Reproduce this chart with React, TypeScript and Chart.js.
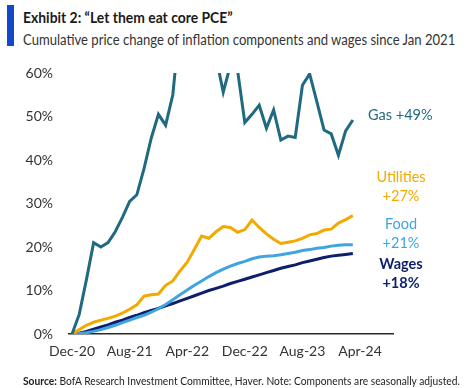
import React, { useEffect, useLayoutEffect, useRef } from "react";
import { Chart, registerables } from "chart.js";

Chart.register(...registerables);

// Month index 0 = Dec-20
const tickMonths = [0, 8, 16, 24, 32, 40];
const tickLabels = ["Dec-20", "Aug-21", "Apr-22", "Dec-22", "Aug-23", "Apr-24"];

const gas = [
  0, 4.5, 12.5, 21, 20, 21, 23.5, 26.8, 30.5, 32, 38, 45, 50.5, 48, 55,
  72, 80, 90, 100, 78, 63.7, 55.6, 61.8, 60.5, 48.6, 50.5, 52.6, 47.3, 51.5,
  44.6, 45.5, 45.2, 57.2, 59.8, 53.4, 46.9, 46, 41.1, 46.7, 49.2,
];
const utilities = [
  0, 1, 2, 2.7, 3.2, 3.6, 4.1, 4.8, 5.7, 6.7, 8.7, 9, 9.2, 11.2, 12.2, 14.5,
  16.5, 19.5, 22.5, 22, 23.5, 24.7, 24.5, 23.4, 24, 26.2, 24.5, 23, 21.8, 20.8,
  21.1, 21.4, 22, 22.8, 23.1, 23.9, 24.1, 25.5, 26.3, 27.2,
];
const food = [
  0, 0.1, 0.3, 0.6, 1.0, 1.5, 2.0, 2.6, 3.2, 3.8, 4.3, 5.0, 5.8, 6.8, 7.9, 9.0,
  10.1, 11.2, 12.2, 13.2, 14.1, 14.9, 15.6, 16.2, 16.7, 17.3, 17.7, 17.9, 18.0,
  18.2, 18.5, 18.8, 19.2, 19.4, 19.7, 19.9, 20.2, 20.4, 20.5, 20.5,
];
const wages = [
  0, 0.2, 0.6, 1.1, 1.6, 2.1, 2.7, 3.2, 3.8, 4.3, 4.9, 5.4, 5.9, 6.5, 7.0, 7.6,
  8.2, 8.8, 9.4, 10.0, 10.5, 11.0, 11.6, 12.1, 12.6, 13.1, 13.6, 14.1, 14.6,
  15.1, 15.5, 15.9, 16.4, 16.8, 17.2, 17.6, 17.9, 18.1, 18.3, 18.5,
];

const seriesNames = ["Gas", "Utilities", "Food", "Wages"];
const seriesColors = ["#1f6a80", "#f2a900", "#3ea5e2", "#0d1f6b"];
const endLabels = [["Gas +49%"], ["Utilities", "+27%"], ["Food", "+21%"], ["Wages", "+18%"]];
const endLabelY = [50.3, 33.8, 23.0, 13.8];
const endLabelBold = [false, false, false, true];

const FONT = "Lato, 'Noto Sans', sans-serif";

const endLabelPlugin = {
  id: "endLabels",
  afterDraw(chart: any) {
    const { ctx, chartArea, scales } = chart;
    ctx.save();
    endLabels.forEach((lines, i) => {
      const yc = scales.y.getPixelForValue(endLabelY[i]);
      const lh = 19;
      const y0 = yc - ((lines.length - 1) * lh) / 2;
      ctx.fillStyle = seriesColors[i];
      ctx.font = `${endLabelBold[i] ? "bold " : ""}14.5px ${FONT}`;
      ctx.textBaseline = "middle";
      if (lines.length === 1) {
        ctx.textAlign = "left";
        ctx.fillText(lines[0], chartArea.right - 25, y0);
      } else {
        ctx.textAlign = "center";
        lines.forEach((t, k) => ctx.fillText(t, chartArea.right + 8, y0 + k * lh));
      }
    });
    ctx.restore();
  },
};

function FitText(props: { left: number; top: number; width: number; size: number; bold?: boolean; color: string; children: any }) {
  const ref = useRef<HTMLDivElement | null>(null);
  useLayoutEffect(() => {
    const el = ref.current;
    if (!el) return;
    el.style.transform = "none";
    const w = el.scrollWidth;
    if (w > 0) el.style.transform = `scaleX(${props.width / w})`;
  });
  return (
    <div
      ref={ref}
      style={{
        position: "absolute",
        left: props.left,
        top: props.top,
        fontSize: props.size,
        fontWeight: props.bold ? 700 : 400,
        color: props.color,
        whiteSpace: "nowrap",
        lineHeight: "20px",
        transformOrigin: "0 0",
        display: "inline-block",
      }}
    >
      {props.children}
    </div>
  );
}

export default function App() {
  const ref = useRef<HTMLCanvasElement | null>(null);

  useEffect(() => {
    if (!ref.current) return;
    const all = [gas, utilities, food, wages];
    const chart = new Chart(ref.current, {
      type: "line",
      data: {
        datasets: all.map((arr, i) => ({
          label: seriesNames[i],
          data: arr.map((v, m) => ({ x: m, y: v })),
          borderColor: seriesColors[i],
          borderWidth: 3,
          pointRadius: 0,
          tension: 0,
          fill: false,
          clip: 0,
        })),
      },
      options: {
        responsive: false,
        animation: false,
        events: [],
        layout: { padding: { top: 73, right: 78, left: 0, bottom: 0 } },
        plugins: { legend: { display: false }, tooltip: { enabled: false } },
        scales: {
          x: {
            type: "linear",
            min: -0.42,
            max: 44.58,
            grid: { display: false, drawTicks: false },
            border: { display: true, color: "#2a2a2a", width: 1.5 },
            afterFit: (s: any) => {
              s.height = 54;
            },
            afterBuildTicks: (s: any) => {
              s.ticks = tickMonths.map((v) => ({ value: v }));
            },
            ticks: {
              autoSkip: false,
              maxRotation: 0,
              padding: 9,
              color: "#333333",
              font: { family: FONT, size: 14 },
              callback: (v: any) => {
                const idx = tickMonths.indexOf(Number(v));
                return idx >= 0 ? tickLabels[idx] : "";
              },
            },
          },
          y: {
            min: 0,
            max: 60,
            grid: { display: false, drawTicks: false },
            border: { display: false },
            afterFit: (s: any) => {
              s.width = 69;
            },
            ticks: {
              stepSize: 10,
              padding: 16,
              color: "#333333",
              font: { family: FONT, size: 14 },
              callback: (v: any) => `${v}%`,
            },
          },
        },
      },
      plugins: [endLabelPlugin],
    });
    return () => chart.destroy();
  }, []);

  return (
    <div
      style={{
        position: "fixed",
        left: 0,
        top: 0,
        width: 471,
        height: 388,
        background: "#ffffff",
        overflow: "hidden",
        fontFamily: FONT,
      }}
    >
      <div
        style={{
          position: "absolute",
          left: 7,
          top: 5,
          width: 7,
          height: 41,
          background: "#1248c9",
        }}
      />
      <FitText left={23} top={8} width={210} size={14.5} bold color="#1a1a1a">
        Exhibit 2: “Let them eat core PCE”
      </FitText>
      <FitText left={23} top={30} width={432} size={14.5} color="#333333">
        Cumulative price change of inflation components and wages since Jan 2021
      </FitText>
      <canvas
        ref={ref}
        width={471}
        height={388}
        style={{ position: "absolute", left: 0, top: 0, width: 471, height: 388 }}
      />
      <FitText left={23} top={371} width={437} size={11} color="#222222">
        <b>Source:</b> BofA Research Investment Committee, Haver. Note: Components are seasonally adjusted.
      </FitText>
    </div>
  );
}
